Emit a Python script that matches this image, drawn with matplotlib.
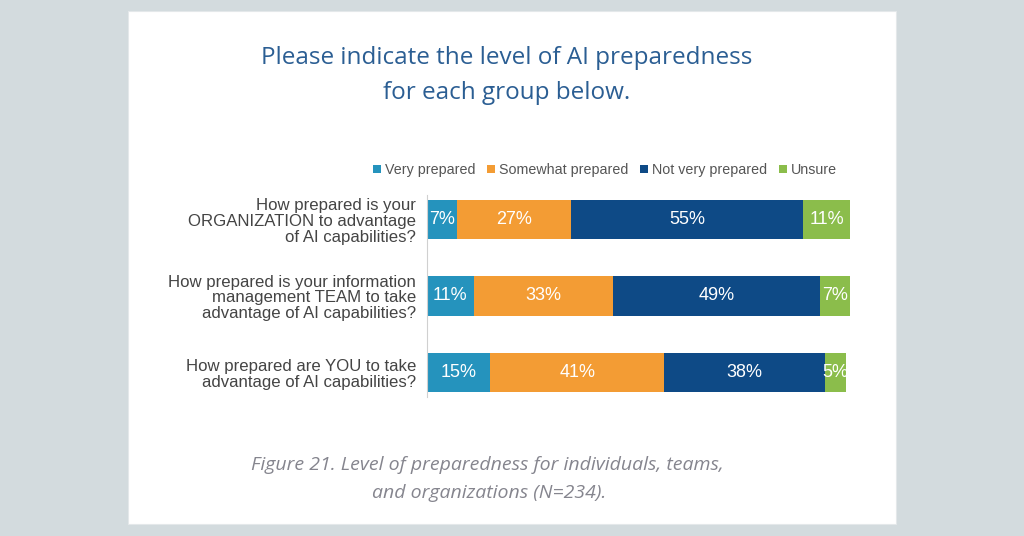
import matplotlib.pyplot as plt
from matplotlib.patches import Rectangle

questions = [
    "How prepared is your\nORGANIZATION to advantage\nof AI capabilities?",
    "How prepared is your information\nmanagement TEAM to take\nadvantage of AI capabilities?",
    "How prepared are YOU to take\nadvantage of AI capabilities?",
]
levels = ["Very prepared", "Somewhat prepared", "Not very prepared", "Unsure"]
very = [7, 11, 15]
somewhat = [27, 33, 41]
not_very = [55, 49, 38]
unsure = [11, 7, 5]
colors = ["#2593bd", "#f39c34", "#0e4a86", "#8bbd4b"]

fig = plt.figure(figsize=(10.24, 5.36), dpi=100)
fig.patch.set_facecolor("#d3dbde")

# white card behind the chart
fig.patches.append(Rectangle((128 / 1024, 1 - 524 / 536), (896 - 128) / 1024, (524 - 11) / 536,
                             transform=fig.transFigure, facecolor="white", edgecolor="#e4e8ea",
                             linewidth=0.8, zorder=-5))

fig.text(507 / 1024, 1 - 58 / 536, "Please indicate the level of AI preparedness",
         ha="center", va="center", fontsize=17.5, color="#2b5e93", family="Open Sans")
fig.text(507 / 1024, 1 - 93 / 536, "for each group below.",
         ha="center", va="center", fontsize=17.5, color="#2b5e93", family="Open Sans")

ax = fig.add_axes([427 / 1024, 1 - 410.75 / 536, 423 / 1024, 229.5 / 536])
ax.set_facecolor("none")
ax.set_zorder(2)

series = [very, somewhat, not_very, unsure]
ypos = list(range(len(questions)))
left = [0] * len(questions)
for vals, col, name in zip(series, colors, levels):
    bars = ax.barh(ypos, vals, left=left, height=0.51, color=col, label=name)
    for b, v in zip(bars, vals):
        ax.text(b.get_x() + b.get_width() / 2, b.get_y() + b.get_height() / 2, f"{v}%",
                ha="center", va="center", color="white", fontsize=13, family="Liberation Sans")
    left = [l + v for l, v in zip(left, vals)]

ax.set_xlim(0, 100)
ax.set_ylim(2.5, -0.5)
ax.set_yticks(ypos)
ax.set_yticklabels(questions, fontsize=12.1, color="#444444", family="Liberation Sans",
                   linespacing=1.06)
ax.tick_params(axis="y", length=0, pad=8)
ax.set_xticks([])
for s in ["top", "right", "bottom"]:
    ax.spines[s].set_visible(False)
ax.spines["left"].set_color("#d0d0d0")
ax.spines["left"].set_bounds(-0.32, 2.32)

handles, labels = ax.get_legend_handles_labels()
leg = fig.legend(handles, labels, loc="center", bbox_to_anchor=(605 / 1024, 1 - 170 / 536), ncol=4,
                 frameon=False, handlelength=0.55, handleheight=0.55, handletextpad=0.3,
                 columnspacing=0.8, prop={"family": "Liberation Sans", "size": 10.3})
for t in leg.get_texts():
    t.set_color("#555555")

fig.text(487 / 1024, 1 - 465 / 536, "Figure 21. Level of preparedness for individuals, teams,",
         ha="center", va="center", fontsize=14, color="#85858e", style="italic", family="Open Sans")
fig.text(489 / 1024, 1 - 493 / 536, "and organizations (N=234).",
         ha="center", va="center", fontsize=14, color="#85858e", style="italic", family="Open Sans")

fig.savefig("out.png", dpi=100, facecolor=fig.get_facecolor())
